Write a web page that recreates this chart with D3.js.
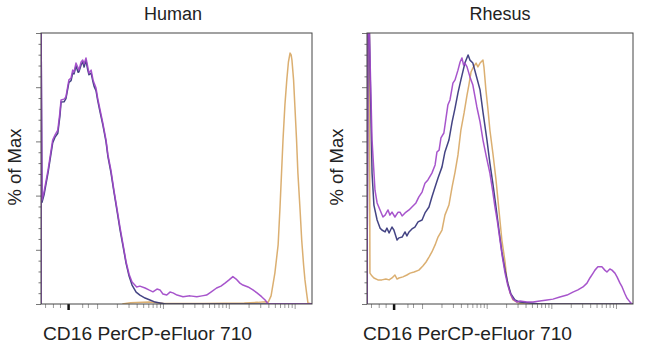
<!DOCTYPE html>
<html><head><meta charset="utf-8">
<script src="https://cdn.jsdelivr.net/npm/d3@7/dist/d3.min.js"></script>
<style>html,body{margin:0;padding:0;background:#fff;}svg{display:block;}</style>
</head><body><svg id="c" width="650" height="345"></svg>
<script>
// ---- data (x = display channel 0..1000, y = % of Max) ----
const panels = ["Human", "Rhesus"];
const xLabel = "CD16 PerCP-eFluor 710";
const yLabel = "% of Max";

const humanPurple = [[0,0],[0,110],[3.7,38.4],[11,41.3],[26,49.4],[43,60.5],[52,62.4],[62,64.2],[70,70.8],[74,75.3],[85,75.6],[92,76.4],[103,82.7],[111,83.4],[117,86.3],[122,85.6],[129,88.9],[137,87.1],[140,86.3],[148,89.3],[154,90],[159,88.6],[166,90.8],[172,87.8],[177,85.2],[185,86.3],[192,82.7],[196,81.5],[203,79.7],[209,76],[218,71.6],[228,66.8],[240,60.5],[247,55],[258,49.4],[269,42],[280,35.4],[292,28],[303,21.8],[314,15.5],[325,11],[336,8.1],[353,6.3],[365,6.6],[384,5.9],[398,5.2],[413,4.5],[428,5.5],[439,5.2],[450,3.7],[464,3.3],[476,4.4],[487,4.1],[502,3.3],[524,2.7],[550,3],[575,2.7],[594,3],[611,3.3],[627,4.4],[648,5.9],[664,6.6],[679,7.7],[694,8.9],[708,10.1],[720,9.2],[734,7.7],[745,7],[764,6.3],[782,5.2],[797,4.1],[814,2.7],[827,1.5],[838,0],[1000,0]];
const humanBlue = [[0,0],[0,110],[3.7,37.5],[11,40.2],[26,48.5],[43,59.4],[52,61.6],[62,63],[70,69.5],[74,74.5],[85,74.6],[92,75.8],[103,81.8],[111,82.4],[117,85.2],[122,84.9],[129,87.8],[137,85.5],[140,85.7],[148,88.2],[154,89.4],[159,87.4],[166,89.9],[172,86.6],[177,84.6],[185,85.2],[192,81.9],[196,80.3],[203,78.7],[209,75.2],[218,70.8],[228,66.2],[240,59.8],[247,54.4],[258,48.6],[269,41.5],[280,34.7],[292,27.2],[303,21.2],[314,15],[325,10.3],[336,7],[351,4.4],[365,3.3],[384,2.2],[402,1.5],[421,0.7],[439,0.4],[461,0],[1000,0]];
const humanOrange = [[300,0],[330,0.5],[400,0.7],[450,0.3],[600,0.2],[750,0.4],[800,0.6],[830,0.8],[838,0.6],[849,3],[863,11.4],[875,21.8],[882,35.8],[893,60.5],[900,73.4],[907,82.7],[913,89.3],[919,92.6],[923,91.9],[926,90],[932,82.7],[937,72.7],[943,60.5],[948,48.3],[956,34.7],[962,23.6],[969,14.4],[974,8.9],[980,4.1],[985,0.4],[1000,0]];

const rhesusPurple = [[0,0],[4,110],[9,100],[19,60.5],[30,42],[38,37.3],[49,34.7],[60,32.1],[68,32.8],[79,34.7],[86,32.8],[94,33.9],[105,32.1],[117,33.9],[124,33.9],[132,32.5],[143,33.6],[158,34.7],[169,35.8],[184,37.3],[195,39.5],[207,41.3],[218,44.6],[229,45.8],[244,48.3],[256,51.3],[263,56.1],[271,56.8],[278,61.3],[289,63.1],[297,68.6],[304,73.4],[312,75.3],[323,81.5],[331,82.7],[342,86.3],[350,89.3],[357,90.8],[363,88.2],[368,88.9],[376,87.5],[387,83.8],[398,80.8],[413,72.7],[425,67.2],[436,60.5],[449,54.2],[462,48.3],[472,42],[481,35.8],[491,29.9],[500,23.6],[509,17.3],[519,11.4],[528,7.4],[538,4.1],[549,1.8],[564,0.7],[575,1.1],[601,0.7],[624,0.7],[650,1.1],[677,1.5],[699,1.8],[725,2.6],[752,3.3],[774,4.4],[793,5.2],[812,6.3],[827,7.7],[838,9.6],[850,11.4],[857,12.5],[868,13.7],[883,13.7],[894,12.5],[902,11.8],[913,12.9],[921,12.5],[932,11.4],[940,10],[951,7.7],[959,6.3],[970,3.7],[977,2.2],[989,0.7],[996,0],[1000,0]];
const rhesusBlue = [[0,0],[4,110],[9,100],[19,48.3],[26,36.5],[38,31],[49,28],[56,27.3],[68,26.6],[75,28],[83,26.2],[94,28.4],[101,27.3],[113,23.6],[120,24.4],[132,24.7],[143,26.6],[150,25.1],[158,26.6],[169,27.7],[180,28.4],[192,30.3],[207,31],[218,33.6],[233,35.8],[244,39.5],[256,43.2],[267,46.5],[282,50.6],[293,56.1],[308,60.5],[320,67.2],[331,72.3],[342,77.9],[353,82.7],[368,88.9],[380,91.9],[387,90],[398,88.9],[410,84.5],[425,79],[436,70.8],[451,60.5],[462,52],[474,43.9],[485,35.8],[496,27.3],[507,19.2],[519,12.5],[530,7.4],[541,3.7],[556,1.5],[575,0.7],[613,0.4],[650,0],[1000,0]];
const rhesusOrange = [[0,0],[4,110],[9,100],[11,11.4],[19,10.3],[26,9.6],[41,8.9],[56,8.9],[71,9.2],[83,8.9],[94,9.6],[105,10.7],[113,9.2],[120,9.6],[135,10],[150,10.7],[162,11.4],[177,11.8],[195,12.5],[210,14],[222,15.5],[233,17.3],[244,19.2],[256,21.8],[267,24.7],[282,27.3],[293,32.8],[308,36.5],[320,43.2],[331,48.7],[342,55],[353,64.2],[365,70.5],[376,77.1],[383,80.8],[391,85.6],[398,87.1],[410,88.9],[417,87.5],[425,88.9],[436,90],[440,87.1],[447,79],[455,71.6],[462,64.2],[474,55],[485,45.8],[496,34.7],[507,23.6],[519,15.5],[526,8.9],[538,4.1],[549,1.5],[568,0.4],[594,0],[1000,0]];

// axis tick positions (display channel)
const xZeroTick = [100];
const xMajorTicks = [207, 450, 693, 936];
const xMinorTicks = [15, 44, 70, 152, 173, 280, 323, 353, 377, 396, 412, 426, 439, 523, 566, 596, 620, 639, 655, 669, 682, 766, 809, 839, 863, 882, 898, 912, 925];
const yMajorTicks = [0, 20, 40, 60, 80, 100];
const yMinorTicks = [4,8,12,16,24,28,32,36,44,48,52,56,64,68,72,76,84,88,92,96];

const colors = {orange: "#d8a865", blue: "#34347a", purple: "#a046c8"};

const layout = [
  {x0: 41, x1: 312, titleX: 173, ylabX: 21, xlabX: 43, series: [["orange", humanOrange], ["blue", humanBlue], ["purple", humanPurple]]},
  {x0: 367, x1: 633, titleX: 500, ylabX: 343, xlabX: 363, series: [["orange", rhesusOrange], ["blue", rhesusBlue], ["purple", rhesusPurple]]}
];
const yTop = 33, yBot = 304;
const font = "Arial, 'Liberation Sans', sans-serif";

const svg = d3.select("#c");
layout.forEach((L, i) => {
  const x = d3.scaleLinear().domain([0, 1000]).range([L.x0, L.x1]);
  const y = d3.scaleLinear().domain([0, 100]).range([yBot, yTop]);
  const g = svg.append("g");

  const clipId = "clip" + i;
  svg.append("clipPath").attr("id", clipId).append("rect")
    .attr("x", L.x0).attr("y", yTop).attr("width", L.x1 - L.x0).attr("height", yBot - yTop);

  // x ticks (below)
  const xg = g.append("g").attr("transform", `translate(0,${yBot})`);
  xg.call(d3.axisBottom(x).tickValues(xMinorTicks).tickSize(4).tickFormat(""));
  xg.append("g").call(d3.axisBottom(x).tickValues(xMajorTicks).tickSize(5).tickFormat(""));
  xg.append("g").attr("class","zero").call(d3.axisBottom(x).tickValues(xZeroTick).tickSize(6).tickFormat(""));
  xg.selectAll(".domain").remove();
  xg.selectAll(".tick line").attr("stroke", "#9a9a9a").attr("stroke-width", 1);
  xg.selectAll(".zero .tick line").attr("stroke", "#111").attr("stroke-width", 2.5);

  // y ticks (left, outward)
  const yg = g.append("g").attr("transform", `translate(${L.x0},0)`);
  yg.call(d3.axisLeft(y).tickValues(yMinorTicks).tickSize(2.5).tickFormat(""));
  yg.append("g").call(d3.axisLeft(y).tickValues(yMajorTicks).tickSize(5).tickFormat(""));
  yg.selectAll(".domain").remove();
  yg.selectAll(".tick line").attr("stroke", "#777").attr("stroke-width", 1);

  // curves
  const line = d3.line().x(d => x(d[0])).y(d => y(d[1]));
  const cg = g.append("g").attr("clip-path", `url(#${clipId})`);
  L.series.forEach(([name, data]) => {
    cg.append("path").datum(data).attr("d", line)
      .attr("fill", "none").attr("stroke", colors[name])
      .attr("stroke-width", 1.5).attr("stroke-linejoin", "round").attr("opacity", 0.92);
  });

  // frame
  g.append("rect").attr("x", L.x0).attr("y", yTop).attr("width", L.x1 - L.x0).attr("height", yBot - yTop)
    .attr("fill", "none").attr("stroke", "#444").attr("stroke-width", 1);

  // texts
  g.append("text").attr("x", L.titleX).attr("y", 20).attr("text-anchor", "middle")
    .attr("font-family", font).attr("font-size", 18).attr("fill", "#222").text(panels[i]);
  g.append("text").attr("x", L.xlabX).attr("y", 340)
    .attr("font-family", font).attr("font-size", 19.2).attr("fill", "#222").text(xLabel);
  g.append("text").attr("transform", `translate(${L.ylabX},167) rotate(-90)`).attr("text-anchor", "middle")
    .attr("font-family", font).attr("font-size", 18.5).attr("fill", "#222").text(yLabel);
});
</script></body></html>
